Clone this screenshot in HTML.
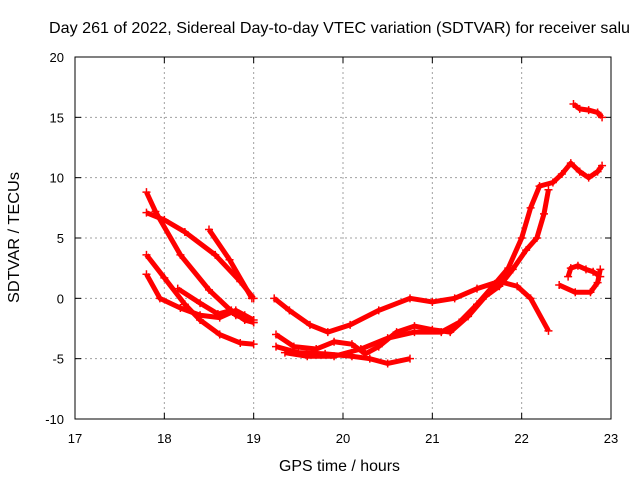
<!DOCTYPE html>
<html><head><meta charset="utf-8"><style>
body{margin:0;background:#fff}
svg{font-family:"Liberation Sans",sans-serif;font-size:13px}
.ttl{font-size:16px}
</style></head><body>
<svg id="c" width="640" height="480">
<rect width="640" height="480" fill="#fff"/>
<text class="ttl" x="49" y="33" textLength="581" lengthAdjust="spacingAndGlyphs">Day 261 of 2022, Sidereal Day-to-day VTEC variation (SDTVAR) for receiver salu</text>
<text class="ttl" x="279" y="471" textLength="121" lengthAdjust="spacingAndGlyphs">GPS time / hours</text>
<text class="ttl" transform="translate(19,303) rotate(-90)" textLength="131" lengthAdjust="spacingAndGlyphs">SDTVAR / TECUs</text>
<g id="grid"></g>
<g id="ticks"></g>
<g id="marks"></g>
<rect x="75" y="57" width="536" height="362" fill="none" stroke="#000"/>
</svg>
<script>
const xTicks=[17,18,19,20,21,22,23];
const yTicks=[-10,-5,0,5,10,15,20];
const t1=[[17.8,7.1],[18.0,6.5],[18.23,5.5],[18.57,3.6],[18.85,1.4],[19.0,0]];
const t2=[[17.8,8.8],[17.9,7.2],[18.18,3.6],[18.5,0.7],[18.8,-1.4],[19.0,-2.0]];
const t3=[[18.5,5.7],[18.73,3.2],[18.98,0]];
const t4=[[17.8,3.6],[18.0,1.7],[18.23,-0.5],[18.4,-1.8],[18.62,-3.0],[18.85,-3.7],[19.0,-3.8]];
const t5=[[17.8,2.0],[17.95,0],[18.18,-0.8],[18.4,-1.4],[18.62,-1.6],[18.8,-1.0],[18.9,-1.4],[19.0,-1.8]];
const t6=[[18.15,0.8],[18.4,-0.4],[18.6,-1.3],[18.75,-1.0],[18.9,-1.8],[19.0,-2.0]];
const m1=[[19.23,0],[19.4,-1.0],[19.63,-2.2],[19.83,-2.8],[20.08,-2.2],[20.4,-1.0],[20.75,0],[21.0,-0.3],[21.25,0],[21.5,0.8],[21.75,1.4],[21.95,1.0],[22.1,0],[22.3,-2.7]];
const b1=[[19.25,-4.0],[19.5,-4.5],[19.8,-4.6],[20.1,-4.8],[20.3,-5.0],[20.5,-5.4],[20.75,-5.0]];
const b2=[[19.25,-3.0],[19.45,-4.0],[19.7,-4.2],[19.9,-3.6],[20.1,-3.8],[20.25,-4.6],[20.4,-4.0],[20.6,-2.8],[20.8,-2.3],[21.0,-2.6],[21.2,-2.8],[21.4,-1.5],[21.6,0.2],[21.75,1.0],[21.9,2.4],[22.05,4.0],[22.17,5.0],[22.25,7.0],[22.3,9.0]];
const b3=[[19.35,-4.5],[19.6,-4.8],[19.9,-4.8],[20.2,-4.2],[20.5,-3.3],[20.8,-2.8],[21.1,-2.8],[21.3,-2.0],[21.5,-0.5],[21.7,1.2],[21.85,2.5],[22.0,5.0],[22.1,7.5],[22.2,9.3],[22.35,9.6],[22.45,10.3],[22.55,11.2],[22.65,10.5],[22.75,10.0],[22.85,10.5],[22.9,11.0]];
const r1=[[22.58,16.1],[22.65,15.7],[22.75,15.6],[22.85,15.4],[22.9,15.0]];
const r2=[[22.42,1.1],[22.6,0.5],[22.77,0.5],[22.85,1.3],[22.88,2.4]];
const r3=[[22.52,1.8],[22.55,2.5],[22.63,2.7],[22.72,2.4],[22.8,2.2],[22.88,1.8]];
const series=[t1,t2,t3,t4,t5,t6,m1,b1,b2,b3,r1,r2,r3];
const X=h=>75+(h-17)*536/6, Y=v=>57+(20-v)*362/30;
const NS="http://www.w3.org/2000/svg";
function mk(tag,attrs,parent){const e=document.createElementNS(NS,tag);for(const k in attrs)e.setAttribute(k,attrs[k]);parent.appendChild(e);return e;}
const g=document.getElementById('grid'),tk=document.getElementById('ticks'),mg=document.getElementById('marks');
xTicks.forEach(t=>{
 if(t>17&&t<23){const l=mk('line',{x1:X(t),x2:X(t),y1:57,y2:419,stroke:'#a0a0a0','stroke-dasharray':'2,3'},g);
 
 }
 mk('line',{x1:X(t),x2:X(t),y1:419,y2:413,stroke:'#000'},tk);
 mk('line',{x1:X(t),x2:X(t),y1:57,y2:63,stroke:'#000'},tk);
 const s=mk('text',{x:X(t),y:443,'text-anchor':'middle'},tk);s.textContent=t;
 
 
});
yTicks.forEach(t=>{
 if(t>-10&&t<20){const l=mk('line',{x1:75,x2:611,y1:Y(t),y2:Y(t),stroke:'#a0a0a0','stroke-dasharray':'2,3'},g);
 
 }
 mk('line',{x1:75,x2:81,y1:Y(t),y2:Y(t),stroke:'#000'},tk);
 mk('line',{x1:605,x2:611,y1:Y(t),y2:Y(t),stroke:'#000'},tk);
 const s=mk('text',{x:64,y:Y(t)+5,'text-anchor':'end'},tk);s.textContent=t;
 
 
});
series.forEach((s,i)=>{
 const pl=mk('polyline',{points:s.map(p=>X(p[0])+','+Y(p[1])).join(' '),fill:'none',stroke:'#f00','stroke-width':5,'stroke-linejoin':'round'},mg);
 
 
 s.forEach(p=>{const x=X(p[0]),y=Y(p[1]);
  const m=mk('path',{d:`M${x-4},${y}h8M${x},${y-4}v8`,stroke:'#f00','stroke-width':1.5},mg);
  
  
 });
});
</script>
</body></html>
